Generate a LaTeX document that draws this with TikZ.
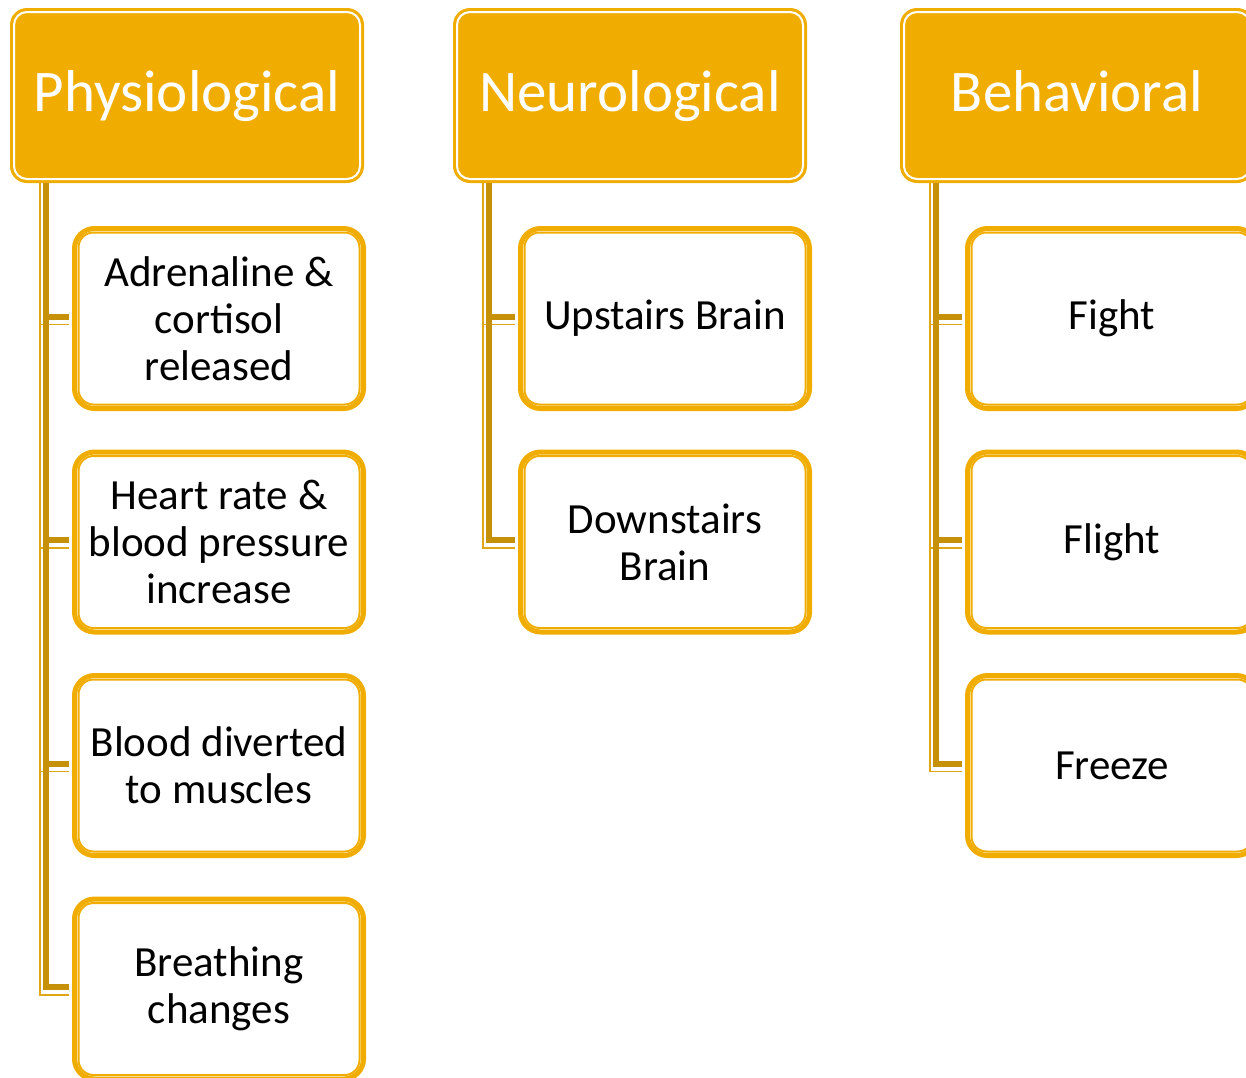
\documentclass[tikz,border=0pt]{standalone}
\usepackage{fontspec}
\setmainfont{Carlito}

\definecolor{gold}{RGB}{240,173,0}
\definecolor{darkgold}{RGB}{198,145,8}
\definecolor{lightgold}{RGB}{224,166,20}

\tikzset{
  head/.style={draw=gold, fill=gold, line width=2pt, rounded corners=16pt,
    minimum width=352pt, minimum height=173pt, text=white,
    text height=43pt, text depth=12pt,
    font=\fontsize{59}{70}\selectfont},
  leaf/.style={draw=gold, fill=white, line width=5pt, rounded corners=20pt,
    minimum width=289pt, minimum height=180pt, align=center,
    font=\fontsize{43}{47}\selectfont},
  link/.style={draw=darkgold, line width=6pt},
  linkshade/.style={draw=lightgold, line width=1.5pt},
}

\begin{document}
\begin{tikzpicture}[x=1pt,y=-1pt]
  \clip (0,0) rectangle (1246,1077);

  % Draw the three headers
  \node[head] (phys) at (187,95.5) {Physiological};
  \node[head] (neuro) at (630,95.5) {Neurological};
  \node[head] (behav) at (1077,95.5) {Behavioral};

  % Draw the boxes under each header
  \node[leaf] (adrenaline) at (219,318.5) {Adrenaline \&\\cortisol\\released};
  \node[leaf] (heart) at (219,542) {Heart rate \&\\blood pressure\\increase};
  \node[leaf] (blood) at (219,765.5) {Blood diverted\\to muscles};
  \node[leaf] (breath) at (219,989) {Breathing\\changes};

  \node[leaf] (upstairs) at (665,318.5) {Upstairs Brain};
  \node[leaf] (downstairs) at (665,542) {Downstairs\\Brain};

  \node[leaf] (fight) at (1112,318.5) {Fight};
  \node[leaf] (flight) at (1112,542) {Flight};
  \node[leaf] (freeze) at (1112,765.5) {Freeze};

  % Draw the white inner line of the headers
  \foreach \h in {phys,neuro,behav}
    \draw[white, line width=2pt, rounded corners=13pt]
      ([shift={(4,4)}]\h.north west) rectangle ([shift={(-4,-4)}]\h.south east);

  % Draw the thin inner line of the boxes
  \foreach \l in {adrenaline,heart,blood,breath,upstairs,downstairs,fight,flight,freeze}
    \draw[gold, line width=2pt, rounded corners=15pt]
      ([shift={(6.5,6.5)}]\l.north west) rectangle ([shift={(-6.5,-6.5)}]\l.south east);

  % Draw the connectors from header to box
  \foreach \h/\l in {phys/adrenaline, phys/heart, phys/blood, phys/breath,
                     neuro/upstairs, neuro/downstairs,
                     behav/fight, behav/flight, behav/freeze} {
    \draw[linkshade] ([shift={(30,0)}]\h.south west) |- ([shift={(-3,6)}]\l.west);
    \draw[link] ([shift={(36,0)}]\h.south west) |- ([shift={(-3,-2)}]\l.west);
  }
\end{tikzpicture}
\end{document}
